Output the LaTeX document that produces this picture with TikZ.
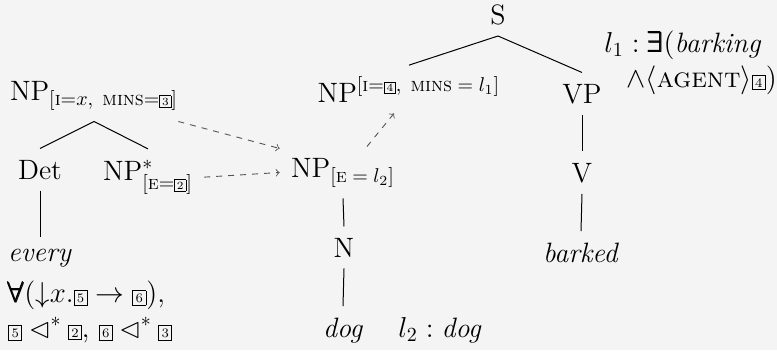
\documentclass[tikz,border=0pt]{standalone}
\usepackage{amsmath}
\usepackage{amssymb}

\definecolor{bgpaper}{HTML}{F4F4F4}
\definecolor{linkgray}{HTML}{555555}

% boxed tags, in text and in sub/superscripts
\newcommand{\bx}[1]{\text{\setlength{\fboxsep}{1.2pt}\setlength{\fboxrule}{0.45pt}\fbox{\fontsize{6.5}{6.5}\selectfont #1}}}
\newcommand{\sbx}[1]{\text{\setlength{\fboxsep}{0.9pt}\setlength{\fboxrule}{0.4pt}\fbox{\fontsize{5.5}{5.5}\selectfont #1}}}
\newcommand{\feat}[1]{\text{\textsc{#1}}}

\tikzset{
  cat/.style={anchor=base, inner sep=5.5pt, font=\fontsize{14}{17}\selectfont},
  sem/.style={anchor=base west, inner sep=0pt, align=left, font=\fontsize{14}{17.5}\selectfont},
  treeline/.style={line width=0.5pt},
  deplink/.style={->, dashed, linkgray, line width=0.45pt}
}

\begin{document}
\begin{tikzpicture}[x=0.5pt, y=-0.5pt]
        \path [use as bounding box, fill=bgpaper] (0, 0) rectangle (777, 350);

        % left tree
        \node [cat] (npx) at (94, 100) {NP$_{[\feat{i}{=}x{,}\ \feat{mins}{=}\sbx{3}]}$};
        \node [cat] (det) at (40, 179) {Det};
        \node [cat] (npstar) at (148, 180) {NP$^*_{[\feat{e}{=}\sbx{2}]}$};
        \node [cat] (every) at (40, 261) {\textit{every}};
        \node [sem] (evsem) at (8, 337) {$\pmb{\forall}({\downarrow}x.\bx{5} \rightarrow \bx{6})$,\\$\bx{5} \lhd^* \bx{2}$, $\bx{6} \lhd^* \bx{3}$};

        \draw [treeline] (npx.south) -- (det.north);
        \draw [treeline] (npx.south) -- (npstar.north);
        \draw [treeline] (det.south) -- (every.north);

        % main tree
        \node [cat] (s) at (498, 24) {S};
        \node [cat] (npf) at (409, 102) {NP$^{[\feat{i}{=}\sbx{4}{,}\ \feat{mins}\;{=}\;l_1]}$};
        \node [cat] (npe) at (343, 177) {NP$_{[\feat{e}\;{=}\;l_2]}$};
        \node [cat] (n) at (344, 257) {N};
        \node [cat] (dog) at (343, 337) {\textit{dog}};
        \node [sem] (dogsem) at (398, 337) {$l_2 : \textit{dog}$};

        \node [cat] (vp) at (582, 103) {VP};
        \node [cat] (v) at (582, 182) {V};
        \node [cat] (barked) at (581, 262) {\textit{barked}};
        \node [sem] (barksem) at (604, 87) {$l_1 : \pmb{\exists}(\textit{barking}$\\\hspace{11pt}$\wedge\langle\feat{agent}\rangle\bx{4})$};

        \draw [treeline] (s.south) -- (npf.north);
        \draw [treeline] (s.south) -- (vp.north);
        \draw [treeline] (npe.south) -- (n.north);
        \draw [treeline] (n.south) -- (dog.north);
        \draw [treeline] (vp.south) -- (v.north);
        \draw [treeline] (v.south) -- (barked.north);

        % substitution and adjunction links
        \draw [deplink] ([xshift=-5.5pt]npx.south east) -- ([yshift=12pt]npe.west);
        \draw [deplink] (npstar.east) -- (npe.west);
        \draw [deplink] ([xshift=12pt]npe.north) -- ([xshift=-7.5pt]npf.south);
      \end{tikzpicture}
\end{document}
